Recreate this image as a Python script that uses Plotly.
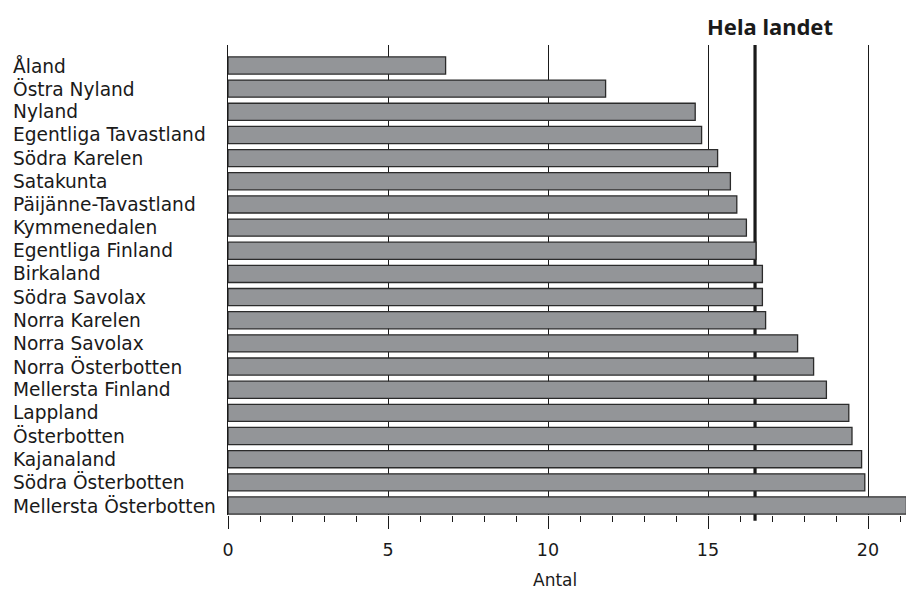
import plotly.graph_objects as go

regions = ["Åland", "Östra Nyland", "Nyland", "Egentliga Tavastland", "Södra Karelen",
           "Satakunta", "Päijänne-Tavastland", "Kymmenedalen", "Egentliga Finland",
           "Birkaland", "Södra Savolax", "Norra Karelen", "Norra Savolax",
           "Norra Österbotten", "Mellersta Finland", "Lappland", "Österbotten",
           "Kajanaland", "Södra Österbotten", "Mellersta Österbotten"]
values = [6.8, 11.8, 14.6, 14.8, 15.3, 15.7, 15.9, 16.2, 16.5, 16.7,
          16.7, 16.8, 17.8, 18.3, 18.7, 19.4, 19.5, 19.8, 19.9, 21.2]
national_value = 16.47
national_label = "Hela landet"
x_title = "Antal"
x_ticks = [0, 5, 10, 15, 20]

FONT = "DejaVu Sans"
TFONT = "Noto Sans"
W, H = 906, 598
ML, MR, MT, MB = 220, 2, 37, 91
PW = W - ML - MR

fig = go.Figure()
fig.add_trace(go.Bar(
    y=regions, x=values, orientation="h",
    marker=dict(color="#939598", line=dict(color="#2b2b2b", width=1.3)),
    width=0.74, hoverinfo="x+y",
))

# national line (behind bars)
fig.add_shape(type="line", xref="x", yref="paper", x0=national_value, x1=national_value,
              y0=-0.012, y1=1, line=dict(color="#1a1a1a", width=3.2), layer="below")

fig.add_annotation(text="<b>" + national_label + "</b>", xref="x", yref="paper",
                   x=national_value, y=1, xanchor="left", yanchor="bottom", xshift=-50, yshift=2,
                   showarrow=False, font=dict(family=TFONT, size=22, color="#1a1a1a"))

# left-aligned category labels
for r in regions:
    fig.add_annotation(text=r, xref="paper", yref="y", x=-(ML - 3) / PW, y=r,
                       xanchor="left", yanchor="middle", showarrow=False,
                       font=dict(family=FONT, size=18.6, color="#1a1a1a"))

fig.add_annotation(text=x_title, xref="paper", yref="paper", x=(555 - 8 - ML) / PW, y=0,
                   xanchor="center", yanchor="middle", yshift=-65, showarrow=False,
                   font=dict(family=FONT, size=17, color="#1a1a1a"))

fig.update_layout(
    width=W, height=H, margin=dict(l=ML, r=MR, t=MT, b=MB),
    paper_bgcolor="white", plot_bgcolor="white", showlegend=False,
    font=dict(family=FONT, size=17, color="#1a1a1a"),
)
fig.update_xaxes(
    range=[0, 21.375], tickvals=x_ticks, ticks="outside", ticklen=13, tickwidth=1,
    tickcolor="#1a1a1a", showgrid=True, gridcolor="#1a1a1a", gridwidth=1,
    zeroline=False, showline=False, ticklabelstandoff=6,
    minor=dict(dtick=1, ticks="outside", ticklen=6, tickcolor="#1a1a1a", showgrid=False),
    tickfont=dict(family=FONT, size=17.5), layer="below traces",
)
fig.update_yaxes(
    range=[19.41, -0.885], showticklabels=False, ticks="", showgrid=False,
    showline=True, linecolor="#1a1a1a", linewidth=1, zeroline=False,
)

fig.write_html("out.html")
